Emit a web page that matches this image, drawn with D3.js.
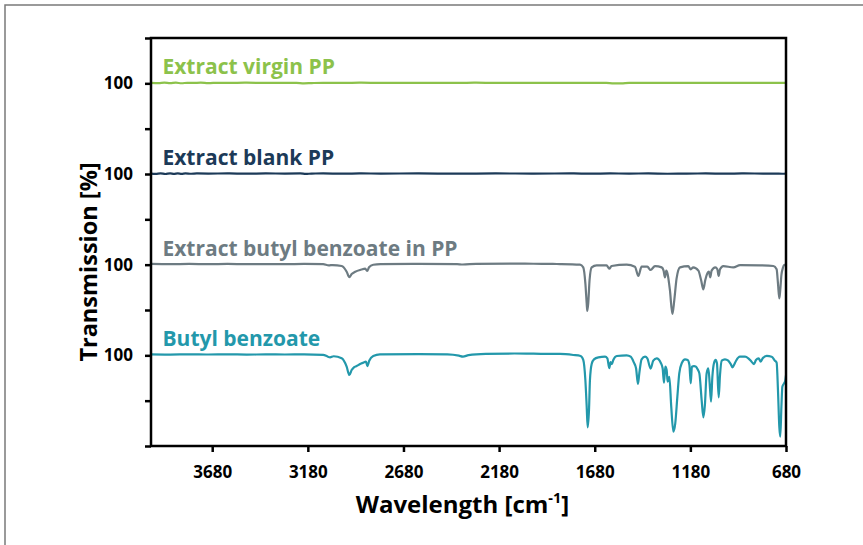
<!DOCTYPE html>
<html><head><meta charset="utf-8">
<script src="https://cdn.jsdelivr.net/npm/d3@7"></script>
<style>
body{margin:0;background:#fff;}
svg{display:block;}
text{font-family:"Open Sans",sans-serif;font-weight:700;}
</style></head>
<body>
<svg id="c" width="863" height="545"></svg>
<script>
// ---------- data ----------
const seriesNames = ["Extract virgin PP","Extract blank PP","Extract butyl benzoate in PP","Butyl benzoate"];
const seriesColors = ["#8cc24b","#1c3a58","#6d7b82","#2398ab"];
const seriesOffsets = [300,200,100,0];
const xTicks = [3680,3180,2680,2180,1680,1180,680];
const yTicks = [0,50,100,150,200,250,300,350,400,450];
const yTickLabels = {100:"100",200:"100",300:"100",400:"100"};

// [wavenumber cm-1, transmission %]
const virginPP = [
 [4000,100.6],[3960,100.3],[3930,100.8],[3900,100.2],[3870,100.7],[3840,100.1],[3810,100.6],[3780,100.4],
 [3740,100.7],[3700,100.2],[3650,100.6],[3600,100.5],[3500,100.7],[3400,100.4],[3300,100.6],[3240,100.5],
 [3200,100.0],[3160,100.3],[3100,100.6],[3000,100.5],[2900,100.7],[2800,100.5],[2700,100.6],[2600,100.4],
 [2500,100.6],[2400,100.5],[2300,100.7],[2200,100.5],[2100,100.6],[2000,100.4],[1900,100.6],[1800,100.5],
 [1700,100.6],[1620,100.4],[1580,99.9],[1540,100.0],[1500,100.5],[1400,100.6],[1300,100.4],[1200,100.6],
 [1100,100.5],[1000,100.6],[900,100.4],[800,100.6],[700,100.5],[680,100.6]
];
const blankPP = [
 [4000,100.5],[3975,100.1],[3950,100.8],[3925,100.0],[3900,100.7],[3880,100.1],[3860,100.6],[3840,100.2],
 [3820,100.7],[3790,100.3],[3760,100.6],[3700,100.5],[3600,100.6],[3500,100.4],[3400,100.6],[3300,100.5],
 [3220,100.6],[3190,100.1],[3160,100.5],[3100,100.6],[3000,100.4],[2900,100.6],[2800,100.5],[2600,100.6],
 [2400,100.4],[2200,100.6],[2000,100.5],[1800,100.6],[1700,100.4],[1600,100.6],[1500,100.5],[1400,100.6],
 [1300,100.3],[1200,100.5],[1100,100.6],[1000,100.4],[900,100.6],[800,100.5],[700,100.3],[680,100.5]
];
const extractBB = [
 [4000,100.9],[3900,100.6],[3800,100.8],[3700,100.6],[3600,100.8],[3500,100.5],[3400,100.7],[3300,100.6],
 [3200,100.8],[3100,100.5],[3070,99.2],[3050,99.6],[3003,98.5],[2977,92.2],[2963,86.1],[2951,89.7],
 [2935,91.9],[2900,94.6],[2880,95.6],[2870,93.0],[2860,97.1],[2838,99.9],[2800,100.7],[2600,100.8],
 [2400,100.6],[2370,100.2],[2300,100.9],[2100,101.1],[2000,101.0],[1900,100.8],[1861,100.7],[1757,100.0],
 [1740,97.0],[1729,79.4],[1722,57.3],[1719,48.9],[1714,57.3],[1707,83.1],[1696,97.0],[1670,99.3],
 [1618,99.3],[1604,95.6],[1592,98.5],[1513,100.0],[1470,97.8],[1452,87.5],[1435,97.8],[1405,97.8],
 [1388,94.1],[1365,98.5],[1330,97.0],[1320,93.4],[1313,86.0],[1306,93.4],[1299,89.7],[1287,72.1],
 [1274,45.6],[1264,61.0],[1252,84.9],[1234,97.0],[1191,98.5],[1178,94.9],[1165,97.0],[1138,93.4],
 [1124,83.1],[1112,72.8],[1102,83.1],[1091,90.4],[1083,92.3],[1076,86.0],[1069,93.4],[1050,97.0],
 [1039,94.9],[1032,87.5],[1025,94.9],[1008,98.5],[955,97.0],[920,99.6],[816,99.3],[746,98.5],
 [729,94.9],[722,79.4],[715,62.9],[710,72.1],[704,88.6],[697,95.9],[690,99.6],[680,100.0]
];
const butylBenzoate = [
 [4000,101.0],[3900,100.8],[3800,101.1],[3700,100.9],[3600,101.1],[3500,100.8],[3400,101.0],[3300,100.9],
 [3200,101.1],[3100,100.6],[3075,98.5],[3064,97.8],[3045,99.0],[3003,96.7],[2977,87.5],[2963,78.3],
 [2951,83.8],[2939,86.8],[2925,88.2],[2907,90.4],[2890,91.9],[2876,93.0],[2869,88.2],[2859,94.0],
 [2838,99.3],[2803,101.1],[2600,101.3],[2450,101.0],[2390,99.6],[2369,98.6],[2340,100.2],[2250,101.6],
 [2100,102.0],[2000,101.8],[1900,101.5],[1862,101.5],[1792,100.4],[1754,99.3],[1740,94.9],[1729,72.8],
 [1722,43.4],[1717,20.6],[1710,39.7],[1705,72.8],[1696,90.4],[1684,95.6],[1661,97.8],[1626,98.5],
 [1614,96.7],[1604,86.0],[1597,92.6],[1590,90.4],[1583,94.9],[1565,99.3],[1513,100.0],[1492,98.5],
 [1475,91.9],[1464,85.7],[1454,68.4],[1447,80.1],[1435,95.6],[1417,98.5],[1405,96.7],[1388,85.3],
 [1374,94.1],[1356,96.7],[1335,91.9],[1325,85.7],[1318,69.8],[1311,87.5],[1304,83.8],[1299,70.9],
 [1290,76.4],[1280,43.4],[1269,15.8],[1259,25.0],[1248,54.4],[1238,80.1],[1224,91.9],[1208,95.6],
 [1194,94.9],[1185,89.3],[1178,69.1],[1172,87.5],[1161,88.2],[1151,87.5],[1142,84.6],[1133,80.1],
 [1121,50.7],[1112,31.6],[1104,45.2],[1095,80.1],[1086,85.7],[1079,69.1],[1072,48.9],[1065,76.4],
 [1056,91.9],[1048,94.9],[1041,91.2],[1032,53.7],[1025,78.3],[1016,94.1],[999,95.6],[982,94.1],
 [969,90.4],[959,86.8],[952,89.3],[941,94.1],[921,98.5],[894,98.5],[877,96.7],[860,93.0],
 [847,90.4],[837,94.9],[823,96.7],[812,93.0],[802,96.7],[781,99.3],[755,98.5],[738,94.1],
 [729,91.9],[722,61.8],[715,21.3],[710,10.3],[704,43.4],[699,65.4],[690,69.1],[684,72.0],[680,78.0]
];
const seriesData = [virginPP, blankPP, extractBB, butylBenzoate];

// ---------- layout ----------
const svg = d3.select("#c");
const L = 151, R = 786, T = 38, B = 446;
const x = d3.scaleLinear().domain([4000,680]).range([L,R]);
const y = d3.scaleLinear().domain([0,450]).range([B,T]);

// outer border (top & left)
svg.append("path").attr("d","M5,545V5H863").attr("fill","none").attr("stroke","#7a7a7a").attr("stroke-width",1.5);

// traces
const line = d3.line().x(d=>x(d[0])).y(d=>y(d[1]+d.off)).curve(d3.curveMonotoneX);
seriesData.forEach((s,i)=>{
  const pts = s.map(p=>{const q=[p[0],p[1]]; q.off=seriesOffsets[i]; return q;});
  svg.append("path").datum(pts).attr("d",line)
    .attr("fill","none").attr("stroke",seriesColors[i]).attr("stroke-width",2.2).attr("stroke-linejoin","round");
  svg.append("text").attr("x",x(3940)).attr("y",y(seriesOffsets[i]+100)-9)
    .attr("fill",seriesColors[i]).attr("font-size",21).text(seriesNames[i]);
});

// axes
const xAxis = d3.axisBottom(x).tickValues(xTicks).tickSize(6).tickPadding(14).tickFormat(d3.format("d"));
const gx = svg.append("g").attr("transform",`translate(0,${B})`).call(xAxis);
const yAxis = d3.axisLeft(y).tickValues(yTicks).tickSize(6).tickPadding(12).tickFormat(d=>yTickLabels[d]||"");
const gy = svg.append("g").attr("transform",`translate(${L},0)`).call(yAxis);
[gx,gy].forEach(g=>{
  g.select(".domain").remove();
  g.selectAll(".tick line").attr("stroke","#000").attr("stroke-width",2.5);
  g.selectAll(".tick text").attr("fill","#000").attr("font-size",17).style("font-family","'Open Sans',sans-serif").style("font-weight",700);
});

// frame
svg.append("rect").attr("x",L).attr("y",T).attr("width",R-L).attr("height",B-T)
  .attr("fill","none").attr("stroke","#000").attr("stroke-width",2.5);

// titles
const xt = svg.append("text").attr("x",(L+R)/2-6).attr("y",513).attr("text-anchor","middle").attr("font-size",24).attr("fill","#000");
xt.append("tspan").text("Wavelength [cm");
xt.append("tspan").attr("font-size",14.5).attr("dy",-10).text("-1");
xt.append("tspan").attr("dy",10).text("]");
svg.append("text").attr("transform","translate(97,262) rotate(-90)").attr("text-anchor","middle")
  .attr("font-size",23.5).attr("fill","#000").text("Transmission [%]");
</script>
</body></html>
